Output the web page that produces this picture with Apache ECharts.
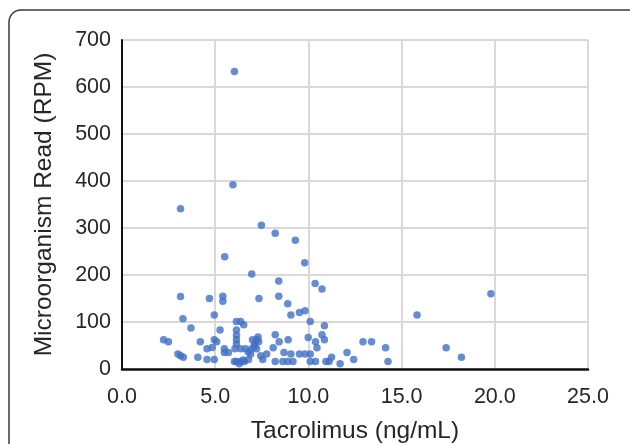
<!DOCTYPE html>
<html>
<head>
<meta charset="utf-8">
<script src="https://cdn.jsdelivr.net/npm/echarts@6/dist/echarts.min.js"></script>
<style>
  html, body { margin: 0; padding: 0; background: #fff; }
  #chart { width: 630px; height: 444px; }
</style>
</head>
<body>
<div id="chart"></div>
<script>
// tacrolimus level (ng/mL) and microorganism read (RPM)
const tacrolimus = [
  6.03, 5.95, 3.14, 7.48, 8.22, 9.3, 5.51, 9.8, 6.96, 8.41,
  10.36, 10.73, 19.79, 3.14, 4.69, 5.41, 5.41, 7.35, 8.41, 8.89,
  9.06, 9.52, 9.82, 15.83, 3.27, 4.95, 6.14, 6.36, 6.53, 6.14,
  10.1, 10.86, 3.7, 5.26, 8.22, 9.99, 10.73, 10.86, 2.23, 2.49,
  4.2, 4.95, 5.08, 6.14, 6.14, 6.14, 7.0, 7.22, 7.11, 7.33,
  6.96, 7.22, 8.43, 8.91, 10.38, 12.93, 13.39, 14.14, 17.39, 18.21,
  14.27, 12.07, 12.43, 11.7, 11.24, 11.11, 10.94, 10.46, 10.1, 9.82,
  9.52, 10.1, 10.38, 9.06, 8.69, 8.11, 8.63, 8.89, 9.17, 8.22,
  7.76, 7.44, 7.55, 6.79, 6.36, 6.57, 6.14, 6.03, 6.29, 5.49,
  5.71, 5.49, 4.56, 4.84, 6.36, 6.62, 3.0, 3.14, 3.29, 4.07,
  4.56, 4.95, 6.9, 6.77, 6.06, 7.1, 6.5, 7.3
]
const readsRpm = [
  633, 392, 341, 306, 289, 274, 239, 226, 202, 187,
  182, 170, 160, 154, 150, 155, 144, 150, 155, 139,
  115, 120, 124, 115, 107, 115, 101, 101, 94, 83,
  101, 92, 87, 83, 73, 67, 73, 62, 62, 58,
  58, 62, 58, 72, 62, 53, 62, 62, 53, 58,
  43, 43, 58, 62, 58, 58, 58, 45, 45, 25,
  16, 35, 20, 11, 25, 16, 16, 45, 32, 32,
  32, 16, 16, 32, 35, 45, 16, 16, 16, 16,
  32, 28, 20, 20, 16, 16, 16, 16, 11, 43,
  35, 35, 43, 46, 43, 43, 32, 28, 25, 25,
  20, 20, 32, 36, 43, 48, 19, 68
]
const xTitle = 'Tacrolimus (ng/mL)'
const yTitle = 'Microorganism Read (RPM)'

const points = tacrolimus.map((v, i) => [v, readsRpm[i]])

const chart = echarts.init(document.getElementById('chart'))
const txt = '#262626'
const option = {
  animation: false,
  textStyle: { fontFamily: 'Liberation Sans, Arial, sans-serif' },
  graphic: [
    {
      type: 'rect',
      shape: { x: 9, y: 10, width: 640, height: 460, r: 12 },
      style: { fill: 'none', stroke: '#3a3a3a', lineWidth: 1.5 },
      z: -1
    }
  ],
  grid: { left: 122, right: 42, top: 40, bottom: 75, outerBoundsMode: 'none', containLabel: false },
  xAxis: {
    type: 'value',
    min: 0, max: 25, interval: 5,
    name: xTitle,
    nameLocation: 'middle',
    nameGap: 50,
    nameTextStyle: { fontSize: 24.5, color: txt },
    axisLine: { show: true, onZero: false, lineStyle: { color: '#111', width: 2.5 } },
    axisTick: { show: false },
    axisLabel: { fontSize: 21.5, color: txt, margin: 17, formatter: v => v.toFixed(1) },
    splitLine: { show: true, lineStyle: { color: '#d9d9d9', width: 2 } }
  },
  yAxis: {
    type: 'value',
    min: 0, max: 700, interval: 100,
    name: yTitle,
    nameLocation: 'middle',
    nameGap: 65,
    nameTextStyle: { fontSize: 24.5, color: txt },
    axisLine: { show: true, lineStyle: { color: '#111', width: 2 } },
    axisTick: { show: false },
    axisLabel: { fontSize: 21.5, color: txt, margin: 11 },
    splitLine: { show: true, lineStyle: { color: '#d9d9d9', width: 2 } }
  },
  series: [
    {
      type: 'scatter',
      data: points,
      symbol: 'circle',
      symbolSize: 7.5,
      itemStyle: { color: '#4070c4' }
    }
  ]
}
chart.setOption(option)
</script>
</body>
</html>
